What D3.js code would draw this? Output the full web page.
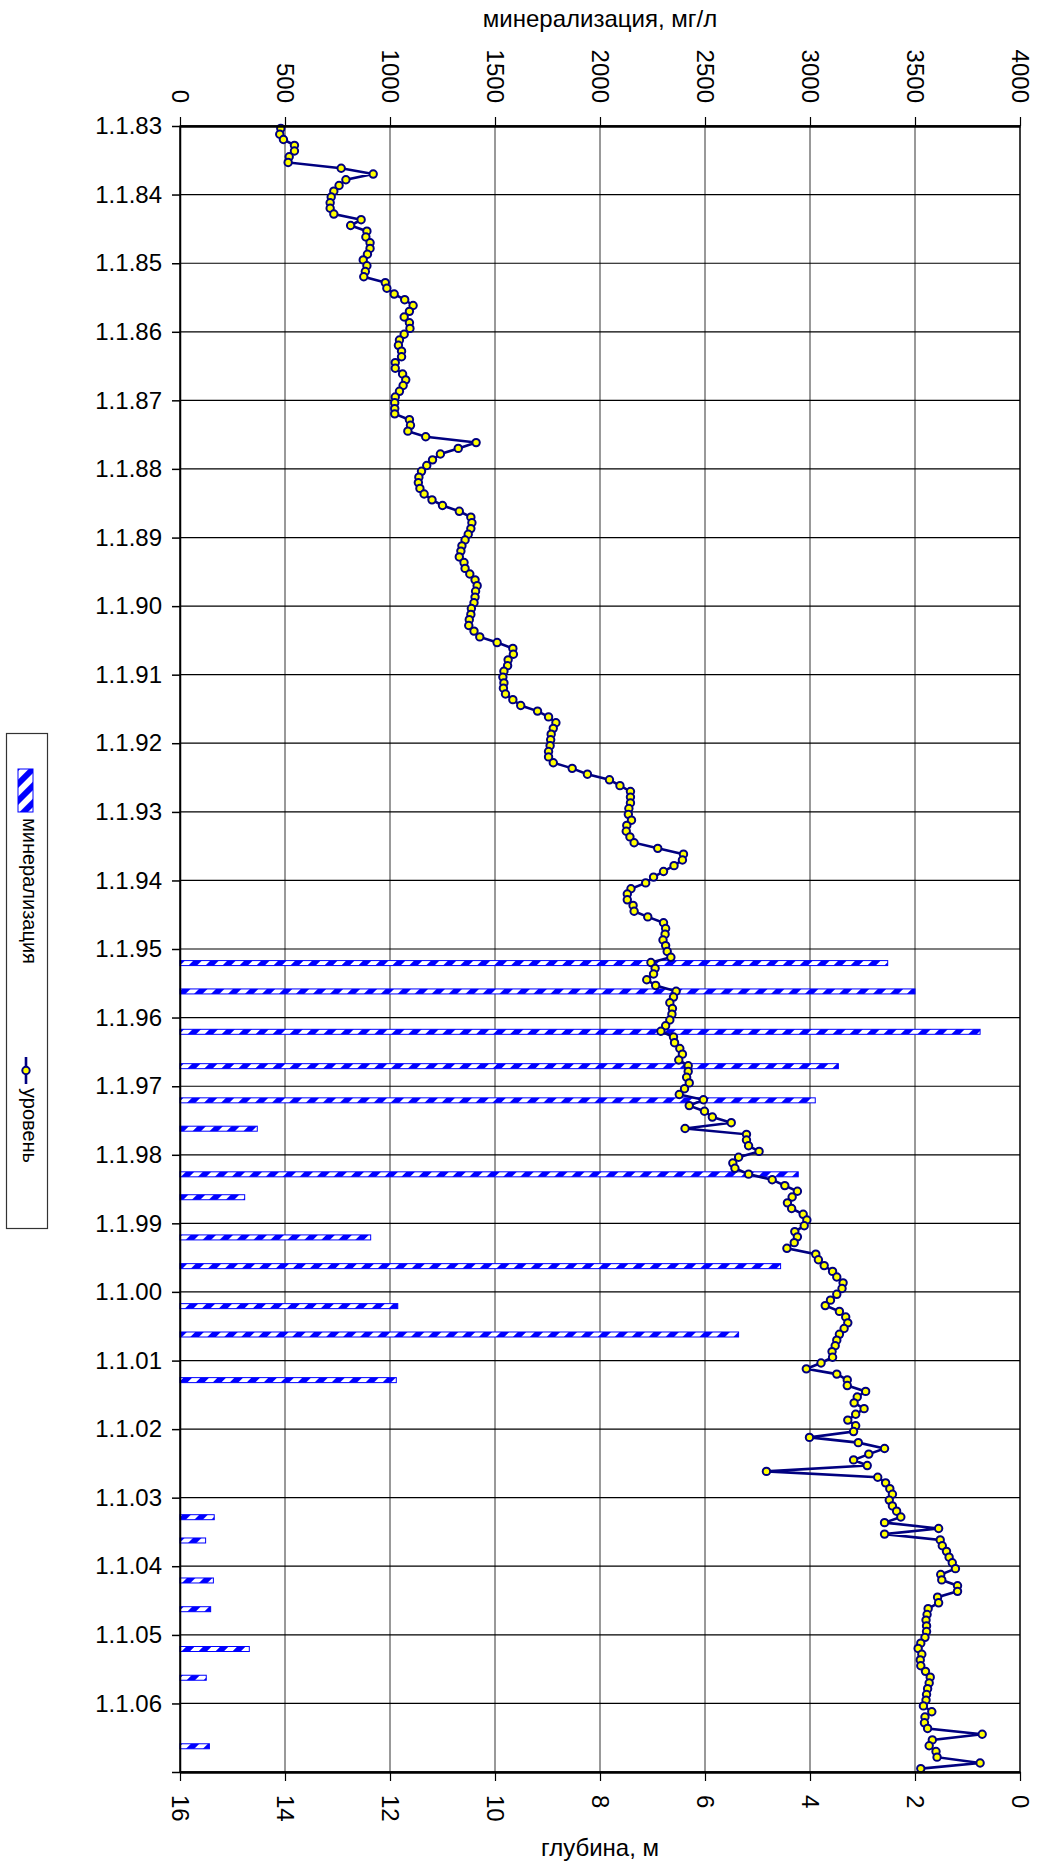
<!DOCTYPE html>
<html><head><meta charset="utf-8">
<script src="https://cdn.jsdelivr.net/npm/d3@7"></script>
<style>
body{margin:0;background:#fff}
svg{display:block}
text{font-family:"Liberation Sans",Arial,sans-serif;fill:#000}
</style>
</head><body>
<svg id="chart" width="1038" height="1864"></svg>
<script>
// ---------- data ----------
const yearTicks = d3.range(1983, 2008);            // date axis gridlines (1.1.YY)
const yearLabels = d3.range(1983, 2007);           // labelled years
const mineralTicks = [0, 500, 1000, 1500, 2000, 2500, 3000, 3500, 4000];
const depthTicks = [16, 14, 12, 10, 8, 6, 4, 2, 0];

// минерализация (bars), mg/l
const barDates = ["1995-03-17","1995-08-15","1996-03-17","1996-09-16","1997-03-17","1997-08-15",
  "1998-04-15","1998-08-15","1999-03-17","1999-08-17","2000-03-17","2000-08-15","2001-04-15",
  "2003-04-15","2003-08-17","2004-03-17","2004-08-17","2005-03-17","2005-08-17","2006-08-17"];
const barValues = [3370, 3500, 3810, 3135, 3025, 368, 2944, 308, 908, 2860, 1037, 2660, 1030,
  163, 122, 159, 146, 330, 125, 140];

// уровень (line), depth in m, monthly Jan 1983 .. Dec 2006
const levelFirstYear = 1983;
const levelValues = [
  14.08,14.10,14.03,13.82,13.82,13.92,13.94,12.93,12.32,12.84,12.97,13.07, // 1983
  13.12,13.14,13.14,13.07,12.55,12.75,12.44,12.46,12.38,12.38,12.43,12.51, // 1984
  12.44,12.47,12.50,12.09,12.06,11.92,11.72,11.56,11.63,11.73,11.63,11.62, // 1985
  11.73,11.82,11.84,11.78,11.78,11.90,11.90,11.76,11.70,11.75,11.82,11.90, // 1986
  11.91,11.91,11.91,11.63,11.61,11.66,11.32,10.36,10.70,11.04,11.19,11.30, // 1987
  11.40,11.45,11.46,11.43,11.35,11.20,11.00,10.68,10.46,10.44,10.46,10.51, // 1988
  10.57,10.63,10.65,10.68,10.59,10.57,10.48,10.38,10.34,10.37,10.38,10.40, // 1989
  10.45,10.46,10.49,10.50,10.40,10.29, 9.96, 9.66, 9.65, 9.75, 9.76, 9.83, // 1990
   9.85, 9.83, 9.84, 9.80, 9.66, 9.51, 9.19, 8.98, 8.84, 8.89, 8.93, 8.94, // 1991
   8.95, 8.98, 8.98, 8.89, 8.53, 8.24, 7.82, 7.62, 7.42, 7.42, 7.42, 7.45, // 1992
   7.46, 7.40, 7.49, 7.50, 7.43, 7.35, 6.90, 6.41, 6.43, 6.59, 6.79, 6.98, // 1993
   7.13, 7.41, 7.48, 7.48, 7.37, 7.35, 7.09, 6.79, 6.75, 6.76, 6.80, 6.75, // 1994
   6.72, 6.65, 7.03, 6.95, 6.98, 7.11, 6.94, 6.55, 6.60, 6.67, 6.62, 6.63, // 1995
   6.67, 6.75, 6.84, 6.60, 6.58, 6.48, 6.43, 6.50, 6.32, 6.32, 6.35, 6.30, // 1996
   6.39, 6.49, 6.03, 6.30, 6.01, 5.86, 5.50, 6.38, 5.21, 5.21, 5.17, 4.97, // 1997
   5.36, 5.47, 5.43, 5.17, 4.72, 4.48, 4.24, 4.34, 4.43, 4.35, 4.13, 4.06, // 1998
   4.11, 4.29, 4.24, 4.30, 4.44, 3.89, 3.84, 3.73, 3.57, 3.49, 3.37, 3.39, // 1999
   3.49, 3.61, 3.71, 3.44, 3.32, 3.28, 3.35, 3.44, 3.49, 3.52, 3.58, 3.57, // 2000
   3.79, 4.07, 3.49, 3.29, 3.29, 2.94, 3.10, 3.16, 2.97, 3.13, 3.28, 3.13, // 2001
   3.17, 4.01, 3.08, 2.58, 2.88, 3.17, 2.91, 4.83, 2.71, 2.56, 2.48, 2.43, // 2002
   2.49, 2.43, 2.35, 2.27, 2.58, 1.55, 2.58, 1.52, 1.48, 1.40, 1.35, 1.29, // 2003
   1.23, 1.51, 1.49, 1.19, 1.19, 1.57, 1.55, 1.75, 1.77, 1.79, 1.78, 1.78, // 2004
   1.81, 1.89, 1.94, 1.87, 1.90, 1.89, 1.80, 1.71, 1.73, 1.76, 1.78, 1.79, // 2005
   1.84, 1.68, 1.81, 1.82, 1.76, 0.72, 1.67, 1.73, 1.60, 1.58, 0.76, 1.89  // 2006
];

const titleTop = "минерализация, мг/л";
const titleBottom = "глубина, м";
const legendNames = ["минерализация", "уровень"];

// ---------- layout ----------
const svg = d3.select("#chart");
const L = 180, R = 1020, T = 126, B = 1772;
const NAVY = "#000080", BLUE = "#0000ff";
const FONT = 24;

const y = d3.scaleTime().domain([new Date(1983,0,1), new Date(2007,0,1)]).range([T, B]);
const xMin = d3.scaleLinear().domain([0, 4000]).range([L, R]);
const xDep = d3.scaleLinear().domain([16, 0]).range([L, R]);

const defs = svg.append("defs");
const pat = defs.append("pattern").attr("id","hatch").attr("patternUnits","userSpaceOnUse")
  .attr("width",12).attr("height",12).attr("patternTransform","rotate(45)");
pat.append("rect").attr("width",12).attr("height",12).attr("fill","#fff");
pat.append("rect").attr("width",6).attr("height",12).attr("fill",BLUE);

// gridlines
const grid = svg.append("g");
grid.selectAll("line.v").data(mineralTicks).join("line")
  .attr("x1", d=>xMin(d)).attr("x2", d=>xMin(d)).attr("y1", T).attr("y2", B)
  .attr("stroke","#555").attr("stroke-width",1.2);
grid.selectAll("line.h").data(yearTicks).join("line")
  .attr("x1", L).attr("x2", R).attr("y1", d=>y(new Date(d,0,1))).attr("y2", d=>y(new Date(d,0,1)))
  .attr("stroke","#000").attr("stroke-width",1.2);

// bars
const bars = barDates.map((d,i)=>({date:d3.timeParse("%Y-%m-%d")(d), v:barValues[i]}));
const bh = 5;
svg.append("g").selectAll("rect").data(bars).join("rect")
  .attr("x", xMin(0)).attr("y", d=>y(d.date)-bh/2)
  .attr("width", d=>xMin(d.v)-xMin(0)).attr("height", bh)
  .attr("fill","url(#hatch)").attr("stroke",BLUE).attr("stroke-width",1);

// line
const level = levelValues.map((v,i)=>({date:new Date(levelFirstYear + Math.floor(i/12), i%12, 14), v}));
svg.append("path").datum(level)
  .attr("d", d3.line().x(d=>xDep(d.v)).y(d=>y(d.date)))
  .attr("fill","none").attr("stroke",NAVY).attr("stroke-width",2.6);
svg.append("g").selectAll("circle").data(level).join("circle")
  .attr("cx", d=>xDep(d.v)).attr("cy", d=>y(d.date)).attr("r",3.7)
  .attr("fill","#ffff00").attr("stroke",NAVY).attr("stroke-width",2);

// frame
svg.append("rect").attr("x",L).attr("y",T).attr("width",R-L).attr("height",B-T)
  .attr("fill","none").attr("stroke","#000").attr("stroke-width",1.2);

// top axis
const gTop = svg.append("g").attr("transform",`translate(0,${T})`)
  .call(d3.axisTop(xMin).tickValues(mineralTicks).tickFormat(d3.format("d")).tickSize(9).tickSizeOuter(0));
gTop.select(".domain").attr("stroke-width",2.4);
gTop.selectAll(".tick line").attr("stroke-width",1.2);
gTop.selectAll(".tick text").attr("x",null).attr("y",null).attr("dy","0.35em")
  .attr("text-anchor","end").attr("transform","translate(0,-23) rotate(90)")
  .style("font-size",FONT+"px").style("font-family",'"Liberation Sans",Arial,sans-serif');

// bottom axis
const gBot = svg.append("g").attr("transform",`translate(0,${B})`)
  .call(d3.axisBottom(xDep).tickValues(depthTicks).tickFormat(d3.format("d")).tickSize(9).tickSizeOuter(0));
gBot.select(".domain").attr("stroke-width",2.4);
gBot.selectAll(".tick line").attr("stroke-width",1.2);
gBot.selectAll(".tick text").attr("x",null).attr("y",null).attr("dy","0.35em")
  .attr("text-anchor","start").attr("transform","translate(0,23) rotate(90)")
  .style("font-size",FONT+"px").style("font-family",'"Liberation Sans",Arial,sans-serif');

// left (date) axis
const gLeft = svg.append("g").attr("transform",`translate(${L},0)`)
  .call(d3.axisLeft(y).tickValues(yearTicks.map(d=>new Date(d,0,1))).tickSize(8).tickPadding(10).tickSizeOuter(0)
    .tickFormat(d=> yearLabels.includes(d.getFullYear()) ? "1.1." + String(d.getFullYear()).slice(2) : ""));
gLeft.select(".domain").attr("stroke-width",1.5);
gLeft.selectAll(".tick line").attr("stroke-width",1.5);
gLeft.selectAll(".tick text").style("font-size",FONT+"px").style("font-family",'"Liberation Sans",Arial,sans-serif');

// titles
svg.append("text").attr("x",(L+R)/2).attr("y",27).attr("text-anchor","middle")
  .style("font-size","24px").text(titleTop);
svg.append("text").attr("x",(L+R)/2).attr("y",1856).attr("text-anchor","middle")
  .style("font-size","24px").text(titleBottom);

// legend
const lg = svg.append("g");
lg.append("rect").attr("x",6.5).attr("y",733.5).attr("width",41).attr("height",495)
  .attr("fill","#fff").attr("stroke","#333").attr("stroke-width",1.2);
lg.append("rect").attr("x",18).attr("y",769).attr("width",15).attr("height",43)
  .attr("fill","url(#hatch)").attr("stroke",BLUE).attr("stroke-width",1);
lg.append("text").attr("transform","translate(23,818) rotate(90)")
  .style("font-size","20px").text(legendNames[0]);
lg.append("line").attr("x1",26).attr("x2",26).attr("y1",1057).attr("y2",1084)
  .attr("stroke",NAVY).attr("stroke-width",2.6);
lg.append("circle").attr("cx",26).attr("cy",1070.5).attr("r",3.7)
  .attr("fill","#ffff00").attr("stroke",NAVY).attr("stroke-width",2);
lg.append("text").attr("transform","translate(23,1088) rotate(90)")
  .style("font-size","20px").text(legendNames[1]);
</script>
</body></html>
